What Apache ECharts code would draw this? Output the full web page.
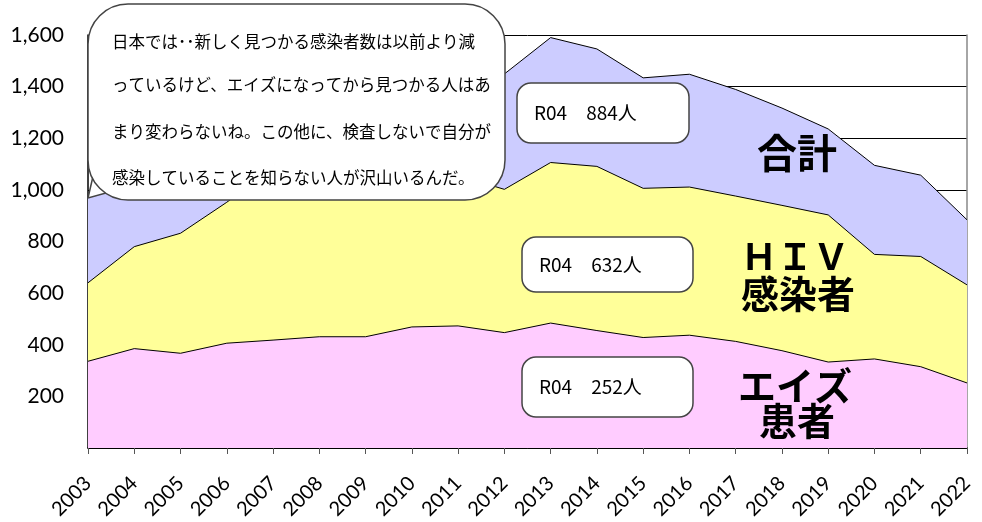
<!DOCTYPE html>
<html><head><meta charset="utf-8">
<script src="https://cdn.jsdelivr.net/npm/echarts@6/dist/echarts.min.js"></script>
<style>html,body{margin:0;padding:0;background:#fff}#c{width:982px;height:522px}</style>
</head><body><div id="c"></div>
<script>
const years = ['2003','2004','2005','2006','2007','2008','2009','2010','2011','2012','2013','2014','2015','2016','2017','2018','2019','2020','2021','2022'];
const hiv   = [640,780,832,952,1082,1126,1021,1075,1056,1002,1106,1091,1006,1011,976,940,903,750,742,632];
const aids  = [336,385,367,406,418,431,431,469,473,447,484,455,428,437,413,377,333,345,315,252];
const total = [976,1165,1199,1358,1500,1557,1452,1544,1529,1449,1590,1546,1434,1448,1389,1317,1236,1095,1057,884];
const yTicks = [0,200,400,600,800,1000,1200,1400,1600];
const calloutLines = ['日本では･･新しく見つかる感染者数は以前より減','っているけど、エイズになってから見つかる人はあ','まり変わらないね。この他に、検査しないで自分が','感染していることを知らない人が沢山いるんだ。'];
const boxTexts = ['R04　884人','R04　632人','R04　252人'];
const bigLabels = ['合計','ＨＩＶ','感染者','エイズ','患者'];

const chart = echarts.init(document.getElementById('c'));
const jp = '"Noto Sans CJK JP", sans-serif';
const Z = 100;
const area = (name, data, color) => ({
  name, type:'line', data, symbol:'none', smooth:false,
  lineStyle:{color:'#000', width:1}, areaStyle:{color, opacity:1}, silent:true
});
const box = (x,y,w,h,text) => ({
  type:'group', z:Z, children:[
    {type:'rect', z:Z, shape:{x,y,width:w,height:h,r:14}, style:{fill:'#fff', stroke:'#444', lineWidth:1.5}},
    {type:'text', z:Z+1, style:{x:x+17, y:y+h/2, text, fill:'#000', font:'19px '+jp, verticalAlign:'middle'}}
  ]
});
const txt = (x,y,text,font,align) => ({type:'text', z:Z+1, style:{x, y, text, font, fill:'#000', align:align||'left', verticalAlign:'middle'}});
chart.setOption({
  animation:false,
  grid:{left:88, right:15, top:35, bottom:73},
  xAxis:{type:'category', data:years, boundaryGap:false,
    axisLine:{lineStyle:{color:'#000', width:1.5}},
    axisTick:{show:true, length:6, lineStyle:{color:'#555'}},
    axisLabel:{rotate:45, fontSize:20, color:'#000', fontFamily:'Lato, "Open Sans", sans-serif', margin:32, interval:0},
    splitLine:{show:false}},
  yAxis:[{type:'value', min:0, max:1600, interval:200,
    axisLine:{show:true, lineStyle:{color:'#000', width:1.5}},
    axisTick:{show:false},
    axisLabel:{fontSize:21, color:'#000', fontFamily:'Lato, "Open Sans", sans-serif', margin:24,
      formatter:v => v===0 ? '' : v.toLocaleString('en-US')},
    splitLine:{show:true, lineStyle:{color:'#000', width:1}}},
    {type:'value', min:0, max:1600, interval:200, position:'right',
     axisLine:{show:true, lineStyle:{color:'#888', width:1.5}}, axisTick:{show:false}, axisLabel:{show:false}, splitLine:{show:false}}],
  series:[
    area('合計', total, '#CCCCFF'),
    area('HIV感染者', hiv, '#FFFF99'),
    area('エイズ患者', aids, '#FFCCFF')
  ],
  graphic:[
    {type:'polygon', z:Z, shape:{points:[[94,172],[88,198],[124,188]]}, style:{fill:'#fff', stroke:'#444', lineWidth:1.5}},
    {type:'rect', z:Z, shape:{x:88, y:4, width:417, height:196, r:40}, style:{fill:'#fff', stroke:'#444', lineWidth:1.5}},
    txt(112,42,calloutLines[0],'16.5px '+jp),
    txt(112,85,calloutLines[1],'16.5px '+jp),
    txt(112,132,calloutLines[2],'16.5px '+jp),
    txt(112,178,calloutLines[3],'16.5px '+jp),
    box(517,83,172,60,boxTexts[0]),
    box(522,237,171,55,boxTexts[1]),
    box(522,357,171,60,boxTexts[2]),
    txt(797,153,bigLabels[0],'bold 40px '+jp,'center'),
    txt(795,256,bigLabels[1],'bold 36px '+jp,'center'),
    txt(798,294,bigLabels[2],'bold 38px '+jp,'center'),
    txt(795,386,bigLabels[3],'bold 38px '+jp,'center'),
    txt(797,421,bigLabels[4],'bold 38px '+jp,'center')
  ]
});
</script></body></html>
